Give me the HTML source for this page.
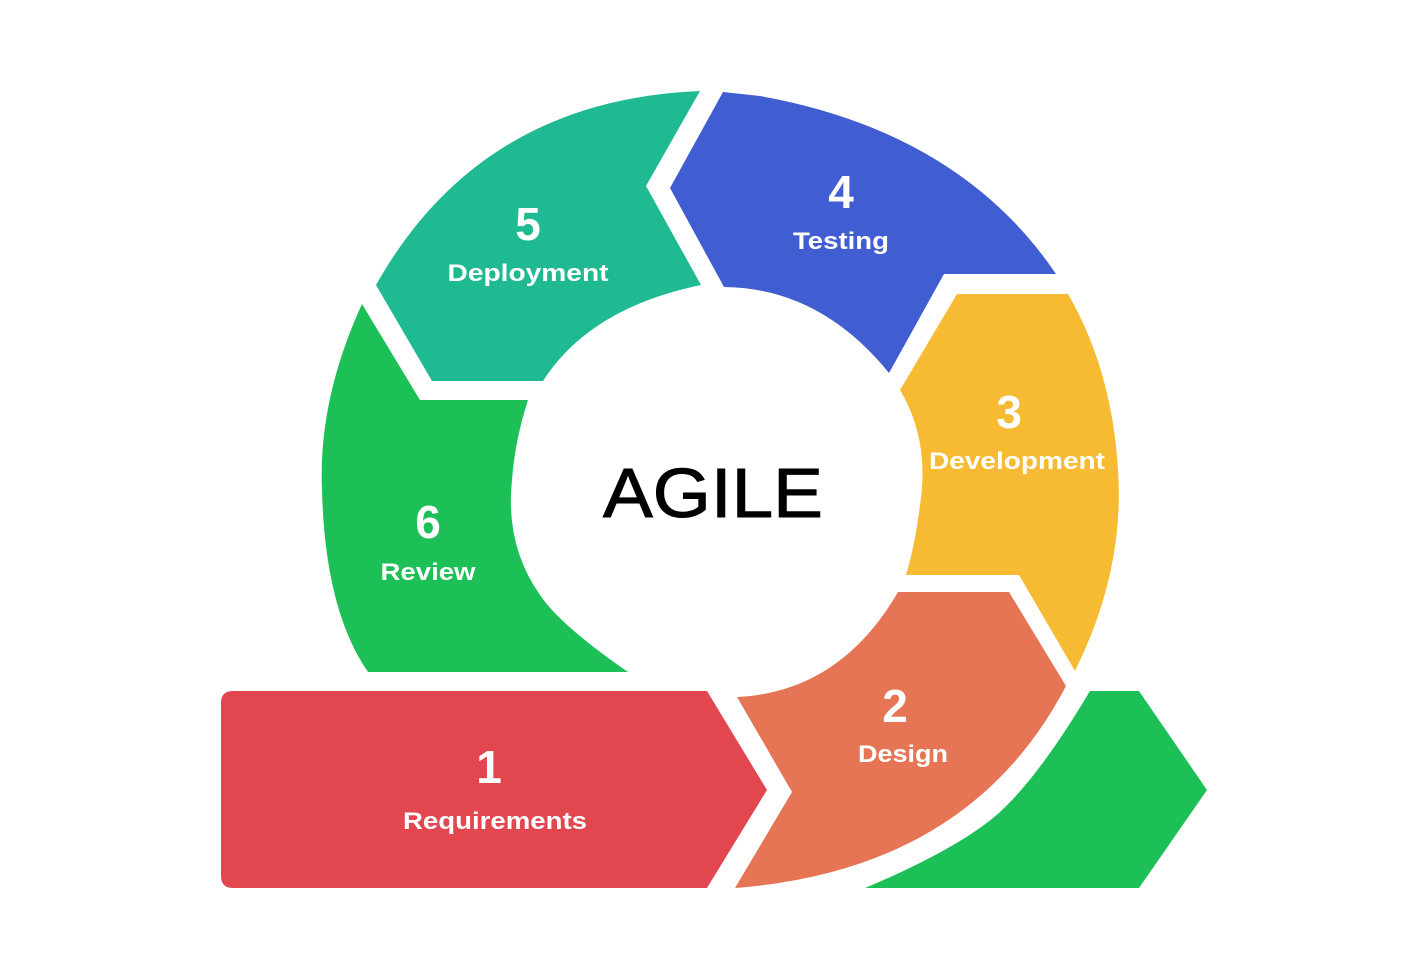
<!DOCTYPE html>
<html><head><meta charset="utf-8"><style>
html,body{margin:0;padding:0;background:#fff;}
svg{display:block}
text{font-family:"Liberation Sans",sans-serif;fill:#fff;font-weight:bold;text-anchor:middle}
</style></head><body>
<svg width="1426" height="979" viewBox="0 0 1426 979" xmlns="http://www.w3.org/2000/svg">
<rect width="1426" height="979" fill="#fff"/>
<path d="M233,691 L707,691 L767,790 L707,888 L233,888 Q221,888 221,876 L221,703 Q221,691 233,691 Z" fill="#E2474F"/>
<path d="M737,697 Q840,692 898,592 L1009,592 L1066,686 Q970,870 735,888 L792,792 Z" fill="#E67555"/>
<path d="M906,575 L1019,575 L1075,671 Q1125,570 1118,470 Q1112,370 1068,294 L957,294 L900,390 Q930,440 920,505 Q915,545 906,575 Z" fill="#F7BA33"/>
<path d="M724,287 Q820,288 889,373 L944,274 L1056,274 Q960,132 760,96 L723,92 L670,188 Z" fill="#405ED1"/>
<path d="M701,285 L646,186 L700,91 Q480,100 376,285 L432,381 L543,381 Q590,308 701,285 Z" fill="#20BA92"/>
<path d="M528,400 L420,400 L362,304 Q318,400 322,490 Q325,610 368,672 L628,672 Q560,625 540,595 Q505,545 512,480 Q515,440 528,400 Z" fill="#1DBF57"/>
<path d="M865,888 L1139,888 L1207,790 L1139,691 L1090,691 Q1040,775 1000,812 Q960,848 865,888 Z" fill="#1DBF57"/>

<text x="713" y="517" style="fill:#000;stroke:#000;stroke-width:1;font-weight:normal;font-size:70px" textLength="220" lengthAdjust="spacingAndGlyphs">AGILE</text>

<text x="489" y="783" font-size="46">1</text>
<text x="495" y="829" font-size="24" textLength="184" lengthAdjust="spacingAndGlyphs">Requirements</text>
<text x="895" y="722" font-size="46">2</text>
<text x="903" y="762" font-size="24" textLength="90" lengthAdjust="spacingAndGlyphs">Design</text>
<text x="1009" y="428" font-size="46">3</text>
<text x="1017" y="469" font-size="24" textLength="176" lengthAdjust="spacingAndGlyphs">Development</text>
<text x="841" y="208" font-size="46">4</text>
<text x="841" y="249" font-size="24" textLength="96" lengthAdjust="spacingAndGlyphs">Testing</text>
<text x="528" y="240" font-size="46">5</text>
<text x="528" y="281" font-size="24" textLength="161" lengthAdjust="spacingAndGlyphs">Deployment</text>
<text x="428" y="538" font-size="46">6</text>
<text x="428" y="580" font-size="24" textLength="95" lengthAdjust="spacingAndGlyphs">Review</text>
</svg>
</body></html>
